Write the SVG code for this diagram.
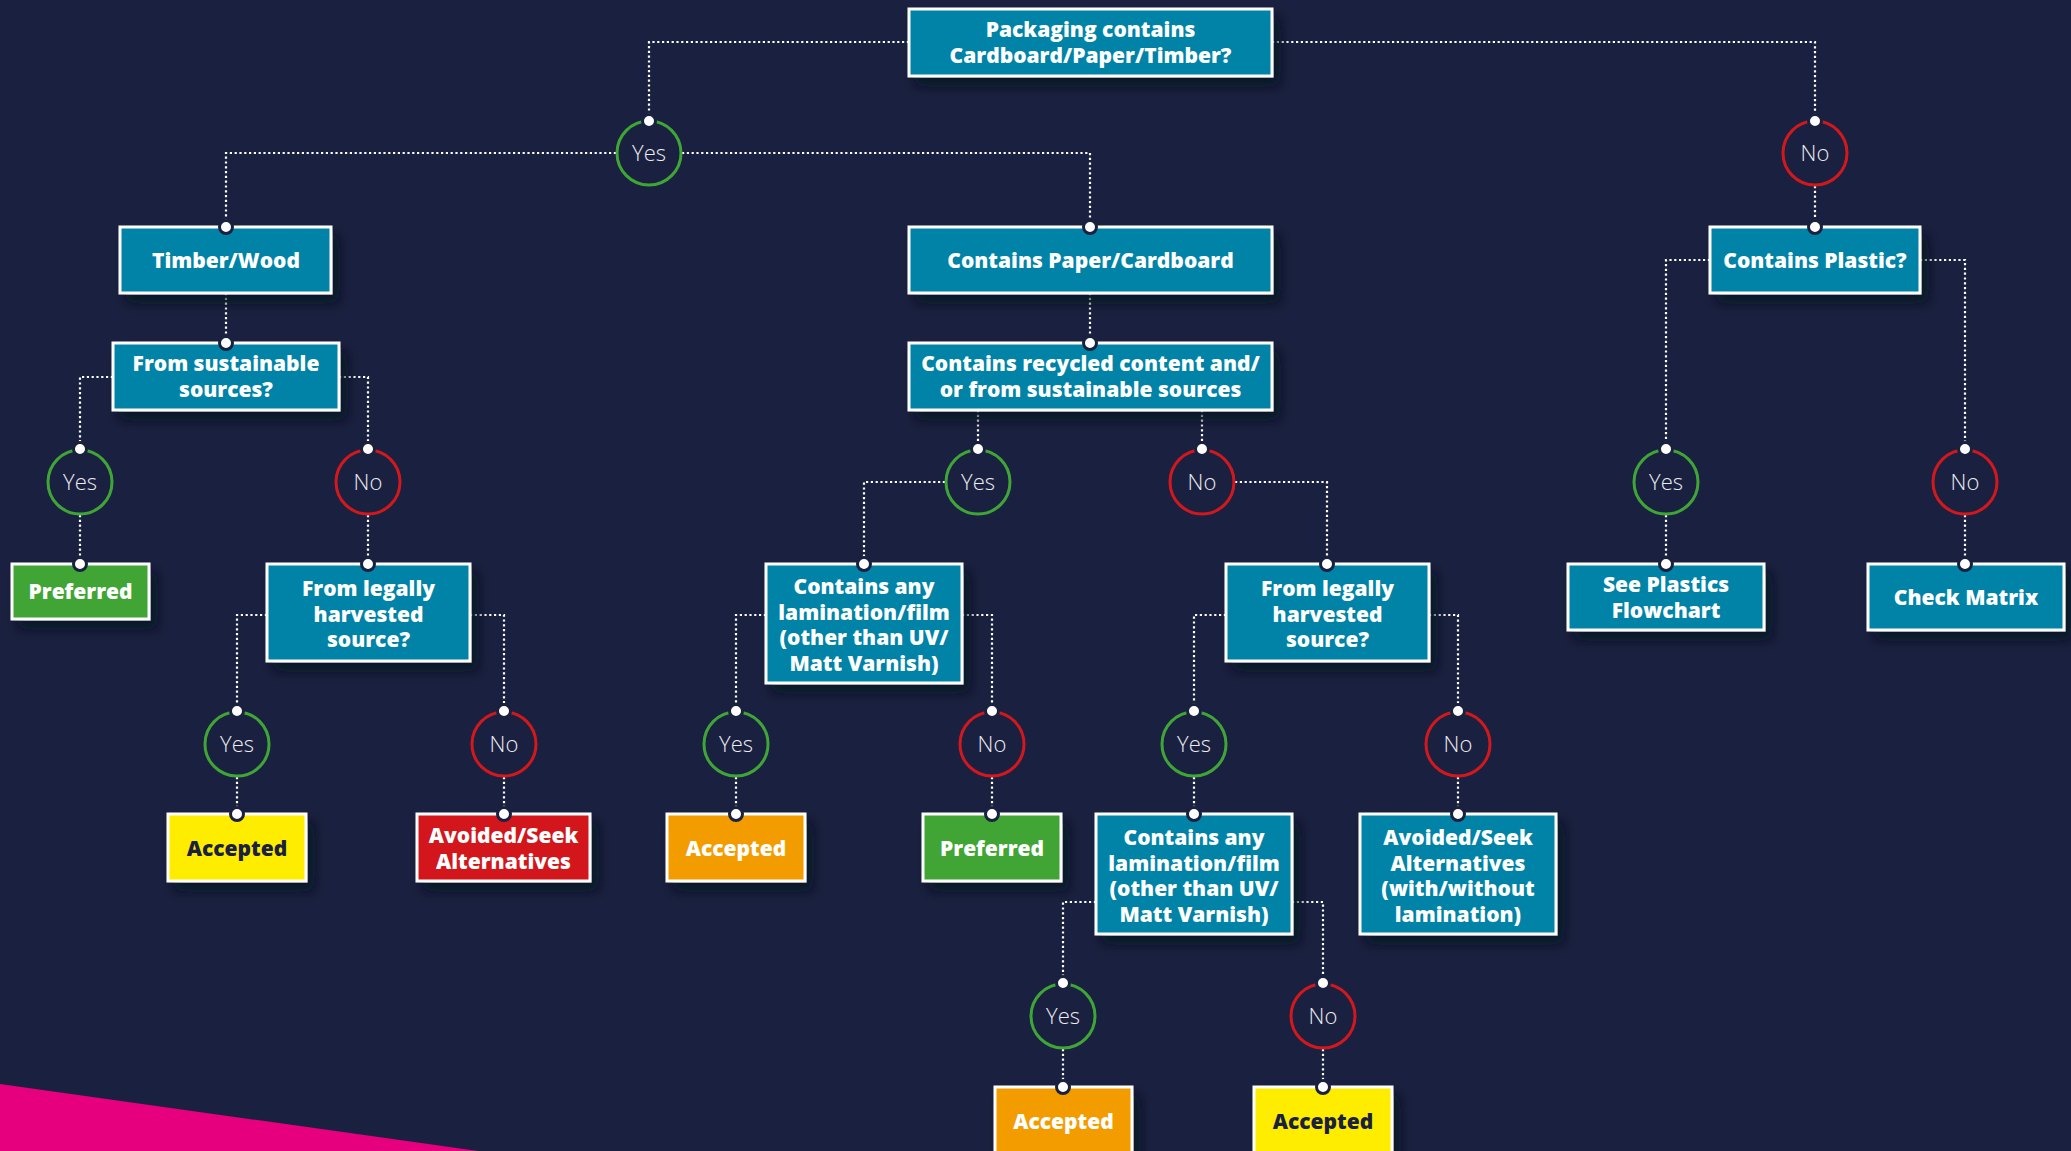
<svg xmlns="http://www.w3.org/2000/svg" width="2071" height="1151" viewBox="0 0 2071 1151">
<defs>
<filter id="sh" x="-20%" y="-20%" width="150%" height="160%">
<feDropShadow dx="7" dy="9" stdDeviation="6" flood-color="#05081a" flood-opacity="0.7"/>
</filter>
<style>
.bg{fill:#1a2140}
.c{fill:none;stroke:#ffffff;stroke-width:2.2;stroke-dasharray:2.2 2.6}
.box{stroke:#ffffff;stroke-width:3;filter:url(#sh)}
.teal{fill:#0083a6}
.green{fill:#40a535}
.yellow{fill:#ffed00}
.orange{fill:#f39c00}
.red{fill:#d2181c}
.t{font-family:"Open Sans","Liberation Sans",sans-serif;font-weight:800;font-size:21px;fill:#ffffff;text-anchor:middle}
.dk{fill:#1a2140}
.yes{fill:none;stroke:#3fa535;stroke-width:3}
.no{fill:none;stroke:#d2181c;stroke-width:3}
.ct{font-family:"Open Sans","Liberation Sans",sans-serif;font-weight:300;font-size:22px;fill:#ececf0;text-anchor:middle}
.dot{fill:#ffffff;stroke:#1a2140;stroke-width:3}
</style>
</defs>
<rect class="bg" x="0" y="0" width="2071" height="1151"/>
<polygon points="0,1084 478,1151 0,1151" fill="#e6007e"/>

<g id="connectors">
<path class="c" d="M909,42 H649 V120"/>
<path class="c" d="M1272,42 H1815 V120"/>
<path class="c" d="M616,153 H226 V227"/>
<path class="c" d="M682,153 H1090 V227"/>
<path class="c" d="M1815,186 V227"/>
<path class="c" d="M226,293 V343"/>
<path class="c" d="M1090,293 V343"/>
<path class="c" d="M113,377 H80 V449"/>
<path class="c" d="M339,377 H368 V449"/>
<path class="c" d="M978,410 V449"/>
<path class="c" d="M1202,410 V449"/>
<path class="c" d="M1710,260 H1666 V449"/>
<path class="c" d="M1920,260 H1965 V449"/>
<path class="c" d="M80,515 V564"/>
<path class="c" d="M368,515 V564"/>
<path class="c" d="M945,482 H864 V564"/>
<path class="c" d="M1235,482 H1327 V564"/>
<path class="c" d="M1666,515 V564"/>
<path class="c" d="M1965,515 V564"/>
<path class="c" d="M267,615 H237 V711"/>
<path class="c" d="M470,615 H504 V711"/>
<path class="c" d="M766,615 H736 V711"/>
<path class="c" d="M962,615 H992 V711"/>
<path class="c" d="M1226,615 H1194 V711"/>
<path class="c" d="M1429,615 H1458 V711"/>
<path class="c" d="M237,777 V814"/>
<path class="c" d="M504,777 V814"/>
<path class="c" d="M736,777 V814"/>
<path class="c" d="M992,777 V814"/>
<path class="c" d="M1194,777 V814"/>
<path class="c" d="M1458,777 V814"/>
<path class="c" d="M1096,902 H1063 V983"/>
<path class="c" d="M1292,902 H1323 V983"/>
<path class="c" d="M1063,1049 V1087"/>
<path class="c" d="M1323,1049 V1087"/>
</g>

<g id="n-packaging">
<rect class="box teal" x="909" y="9" width="363" height="67"/>
<text class="t" x="1090.5" y="37">Packaging contains</text>
<text class="t" x="1090.5" y="63">Cardboard/Paper/Timber?</text>
</g>

<g id="n-yes1"><circle class="yes" cx="649" cy="153" r="32"/><text class="ct" x="649" y="161">Yes</text><circle class="dot" cx="649" cy="121" r="6.5"/></g>
<g id="n-no1"><circle class="no" cx="1815" cy="153" r="32"/><text class="ct" x="1815" y="161">No</text><circle class="dot" cx="1815" cy="121" r="6.5"/></g>

<g id="n-timber">
<rect class="box teal" x="120" y="227" width="211" height="66"/>
<text class="t" x="226" y="268">Timber/Wood</text>
<circle class="dot" cx="226" cy="227" r="6.5"/>
</g>
<g id="n-paper">
<rect class="box teal" x="909" y="227" width="363" height="66"/>
<text class="t" x="1090.5" y="268">Contains Paper/Cardboard</text>
<circle class="dot" cx="1090" cy="227" r="6.5"/>
</g>
<g id="n-plastic">
<rect class="box teal" x="1710" y="227" width="210" height="66"/>
<text class="t" x="1815" y="268">Contains Plastic?</text>
<circle class="dot" cx="1815" cy="227" r="6.5"/>
</g>

<g id="n-sustainable">
<rect class="box teal" x="113" y="343" width="226" height="67"/>
<text class="t" x="226" y="371">From sustainable</text>
<text class="t" x="226" y="397">sources?</text>
<circle class="dot" cx="226" cy="343" r="6.5"/>
</g>
<g id="n-recycled">
<rect class="box teal" x="909" y="343" width="363" height="67"/>
<text class="t" x="1090.5" y="371">Contains recycled content and/</text>
<text class="t" x="1090.5" y="397">or from sustainable sources</text>
<circle class="dot" cx="1090" cy="343" r="6.5"/>
</g>

<g id="n-yes2"><circle class="yes" cx="80" cy="482" r="32"/><text class="ct" x="80" y="490">Yes</text><circle class="dot" cx="80" cy="449" r="6.5"/></g>
<g id="n-no2"><circle class="no" cx="368" cy="482" r="32"/><text class="ct" x="368" y="490">No</text><circle class="dot" cx="368" cy="449" r="6.5"/></g>
<g id="n-yes3"><circle class="yes" cx="978" cy="482" r="32"/><text class="ct" x="978" y="490">Yes</text><circle class="dot" cx="978" cy="449" r="6.5"/></g>
<g id="n-no3"><circle class="no" cx="1202" cy="482" r="32"/><text class="ct" x="1202" y="490">No</text><circle class="dot" cx="1202" cy="449" r="6.5"/></g>
<g id="n-yes4"><circle class="yes" cx="1666" cy="482" r="32"/><text class="ct" x="1666" y="490">Yes</text><circle class="dot" cx="1666" cy="449" r="6.5"/></g>
<g id="n-no4"><circle class="no" cx="1965" cy="482" r="32"/><text class="ct" x="1965" y="490">No</text><circle class="dot" cx="1965" cy="449" r="6.5"/></g>

<g id="n-preferred1">
<rect class="box green" x="12" y="564" width="137" height="55"/>
<text class="t" x="80.5" y="599">Preferred</text>
<circle class="dot" cx="80" cy="564" r="6.5"/>
</g>
<g id="n-legally1">
<rect class="box teal" x="267" y="564" width="203" height="97"/>
<text class="t" x="368.5" y="596">From legally</text>
<text class="t" x="368.5" y="621.5">harvested</text>
<text class="t" x="368.5" y="647">source?</text>
<circle class="dot" cx="368" cy="564" r="6.5"/>
</g>
<g id="n-lamination1">
<rect class="box teal" x="766" y="564" width="196" height="119"/>
<text class="t" x="864" y="594">Contains any</text>
<text class="t" x="864" y="619.5">lamination/film</text>
<text class="t" x="864" y="645">(other than UV/</text>
<text class="t" x="864" y="670.5">Matt Varnish)</text>
<circle class="dot" cx="864" cy="564" r="6.5"/>
</g>
<g id="n-legally2">
<rect class="box teal" x="1226" y="564" width="203" height="97"/>
<text class="t" x="1327.5" y="596">From legally</text>
<text class="t" x="1327.5" y="621.5">harvested</text>
<text class="t" x="1327.5" y="647">source?</text>
<circle class="dot" cx="1327" cy="564" r="6.5"/>
</g>
<g id="n-seeplastics">
<rect class="box teal" x="1568" y="564" width="196" height="66"/>
<text class="t" x="1666" y="592">See Plastics</text>
<text class="t" x="1666" y="618">Flowchart</text>
<circle class="dot" cx="1666" cy="564" r="6.5"/>
</g>
<g id="n-checkmatrix">
<rect class="box teal" x="1868" y="564" width="196" height="66"/>
<text class="t" x="1966" y="605">Check Matrix</text>
<circle class="dot" cx="1965" cy="564" r="6.5"/>
</g>

<g id="n-yes5"><circle class="yes" cx="237" cy="744" r="32"/><text class="ct" x="237" y="752">Yes</text><circle class="dot" cx="237" cy="711" r="6.5"/></g>
<g id="n-no5"><circle class="no" cx="504" cy="744" r="32"/><text class="ct" x="504" y="752">No</text><circle class="dot" cx="504" cy="711" r="6.5"/></g>
<g id="n-yes6"><circle class="yes" cx="736" cy="744" r="32"/><text class="ct" x="736" y="752">Yes</text><circle class="dot" cx="736" cy="711" r="6.5"/></g>
<g id="n-no6"><circle class="no" cx="992" cy="744" r="32"/><text class="ct" x="992" y="752">No</text><circle class="dot" cx="992" cy="711" r="6.5"/></g>
<g id="n-yes7"><circle class="yes" cx="1194" cy="744" r="32"/><text class="ct" x="1194" y="752">Yes</text><circle class="dot" cx="1194" cy="711" r="6.5"/></g>
<g id="n-no7"><circle class="no" cx="1458" cy="744" r="32"/><text class="ct" x="1458" y="752">No</text><circle class="dot" cx="1458" cy="711" r="6.5"/></g>

<g id="n-accepted1">
<rect class="box yellow" x="168" y="814" width="138" height="67"/>
<text class="t dk" x="237" y="856">Accepted</text>
<circle class="dot" cx="237" cy="814" r="6.5"/>
</g>
<g id="n-avoided1">
<rect class="box red" x="417" y="814" width="173" height="67"/>
<text class="t" x="503.5" y="843">Avoided/Seek</text>
<text class="t" x="503.5" y="869">Alternatives</text>
<circle class="dot" cx="504" cy="814" r="6.5"/>
</g>
<g id="n-accepted2">
<rect class="box orange" x="667" y="814" width="138" height="67"/>
<text class="t" x="736" y="856">Accepted</text>
<circle class="dot" cx="736" cy="814" r="6.5"/>
</g>
<g id="n-preferred2">
<rect class="box green" x="923" y="814" width="138" height="67"/>
<text class="t" x="992" y="856">Preferred</text>
<circle class="dot" cx="992" cy="814" r="6.5"/>
</g>
<g id="n-lamination2">
<rect class="box teal" x="1096" y="814" width="196" height="120"/>
<text class="t" x="1194" y="845">Contains any</text>
<text class="t" x="1194" y="870.5">lamination/film</text>
<text class="t" x="1194" y="896">(other than UV/</text>
<text class="t" x="1194" y="921.5">Matt Varnish)</text>
<circle class="dot" cx="1194" cy="814" r="6.5"/>
</g>
<g id="n-avoided2">
<rect class="box teal" x="1360" y="814" width="196" height="120"/>
<text class="t" x="1458" y="845">Avoided/Seek</text>
<text class="t" x="1458" y="870.5">Alternatives</text>
<text class="t" x="1458" y="896">(with/without</text>
<text class="t" x="1458" y="921.5">lamination)</text>
<circle class="dot" cx="1458" cy="814" r="6.5"/>
</g>

<g id="n-yes8"><circle class="yes" cx="1063" cy="1016" r="32"/><text class="ct" x="1063" y="1024">Yes</text><circle class="dot" cx="1063" cy="983" r="6.5"/></g>
<g id="n-no8"><circle class="no" cx="1323" cy="1016" r="32"/><text class="ct" x="1323" y="1024">No</text><circle class="dot" cx="1323" cy="983" r="6.5"/></g>

<g id="n-accepted3">
<rect class="box orange" x="995" y="1087" width="137" height="67"/>
<text class="t" x="1063.5" y="1129">Accepted</text>
<circle class="dot" cx="1063" cy="1087" r="6.5"/>
</g>
<g id="n-accepted4">
<rect class="box yellow" x="1254" y="1087" width="138" height="67"/>
<text class="t dk" x="1323" y="1129">Accepted</text>
<circle class="dot" cx="1323" cy="1087" r="6.5"/>
</g>
</svg>
